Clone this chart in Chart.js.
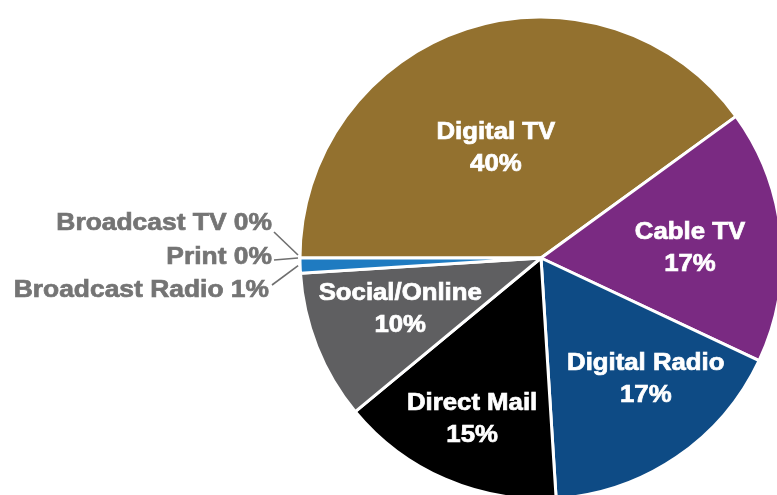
<!DOCTYPE html>
<html>
<head>
<meta charset="utf-8">
<script src="https://cdn.jsdelivr.net/npm/chart.js@4/dist/chart.umd.min.js"></script>
<style>
    html, body { margin: 0; padding: 0; background: #ffffff; overflow: hidden; }
    #myChart { display: block; }
</style>
</head>
<body>
<canvas id="myChart" width="777" height="495"></canvas>
<script>
// slices, clockwise from 9 o'clock
const categories = ["Digital TV", "Cable TV", "Digital Radio", "Direct Mail", "Social/Online", "Broadcast Radio", "Print", "Broadcast TV"];
const shares = [40, 17, 17, 15, 10, 1, 0, 0];
const sliceColors = ["#93712f", "#7a2a82", "#0e4b85", "#000000", "#5f5f61", "#1f7bc1", "#7f7f7f", "#a5a5a5"];

// label placement (not data): inner labels by radius fraction + angle nudge (deg)
const innerFrac = [0.5, 0.62, 0.66, 0.72, 0.62];
const innerNudge = [-4, 1, -7, 0, 2];
// outer labels: right edge x, centre y, leader start
const outerPos = {
    5: { x: 269, y: 290, lx: 272, ly: 285 },
    6: { x: 272, y: 257, lx: 274, ly: 260 },
    7: { x: 272, y: 223, lx: 274, ly: 232 }
};

function pct(i) {
    let total = shares.reduce((a, b) => a + b, 0);
    return Math.round(shares[i] / total * 100) + "%";
}

function stretchedText(ctx, txt, x, y, sx, align) {
    ctx.save();
    ctx.translate(x, y);
    ctx.scale(sx, 1);
    ctx.textAlign = align;
    ctx.lineWidth = 0.7;
    ctx.strokeStyle = ctx.fillStyle;
    ctx.fillText(txt, 0, 0);
    ctx.strokeText(txt, 0, 0);
    ctx.restore();
}

const labelPlugin = {
    id: 'sliceLabels',
    afterDatasetsDraw(chart) {
        const ctx = chart.ctx;
        const meta = chart.getDatasetMeta(0);
        ctx.save();
        ctx.textBaseline = "middle";
        for (let i = 0; i < meta.data.length; i++) {
            const p = meta.data[i].getProps(['x', 'y', 'startAngle', 'endAngle', 'outerRadius'], true);
            if (i < 5) {
                const mid = (p.startAngle + p.endAngle) / 2 + innerNudge[i] * Math.PI / 180;
                const r = p.outerRadius * innerFrac[i];
                const cx = p.x + Math.cos(mid) * r;
                const cy = p.y + Math.sin(mid) * r + 2;
                ctx.fillStyle = "#ffffff";
                ctx.font = "bold 23px 'Liberation Sans', Arial, sans-serif";
                stretchedText(ctx, categories[i], cx, cy - 16, 1.12, "center");
                stretchedText(ctx, pct(i), cx, cy + 16, 1.12, "center");
            } else {
                const o = outerPos[i];
                let mid = (p.startAngle + p.endAngle) / 2;
                const ex = p.x + Math.cos(mid) * (p.outerRadius + 2);
                let ey = p.y + Math.sin(mid) * (p.outerRadius + 2);
                if (i == 7) ey -= 3;
                ctx.strokeStyle = "#6f6f6f";
                ctx.lineWidth = 1.6;
                ctx.beginPath();
                ctx.moveTo(o.lx, o.ly);
                ctx.lineTo(ex, ey);
                ctx.stroke();
                ctx.fillStyle = "#747474";
                ctx.font = "bold 24px 'Liberation Sans', Arial, sans-serif";
                stretchedText(ctx, categories[i] + " " + pct(i), o.x, o.y, 1.1, "right");
            }
        }
        ctx.restore();
    }
};

var ctx = document.getElementById('myChart').getContext('2d');
var myChart = new Chart(ctx, {
    type: 'pie',
    data: {
        labels: categories,
        datasets: [{
            data: shares,
            backgroundColor: sliceColors,
            borderColor: "#ffffff",
            borderWidth: 3,
            clip: false
        }]
    },
    options: {
        responsive: false,
        animation: false,
        devicePixelRatio: 1,
        rotation: -90,
        radius: 241,
        layout: { padding: { left: 305, top: 21, right: 0, bottom: 0 } },
        plugins: {
            legend: { display: false },
            tooltip: { enabled: false }
        }
    },
    plugins: [labelPlugin]
});
</script>
</body>
</html>
